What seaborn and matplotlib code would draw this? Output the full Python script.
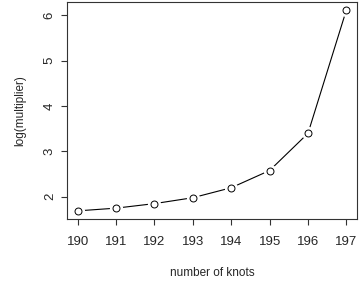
import numpy as np
import pandas as pd
import matplotlib
matplotlib.use("Agg")
import matplotlib.pyplot as plt
import seaborn as sns

# данные
knots = [190, 191, 192, 193, 194, 195, 196, 197]
log_mult = [1.69, 1.75, 1.85, 1.98, 2.20, 2.58, 3.40, 6.12]

df = pd.DataFrame({"knots": knots, "log_mult": log_mult})

sns.set_style("ticks")
plt.rcParams["font.family"] = ["Liberation Sans", "DejaVu Sans"]

fig = plt.figure(figsize=(3.6, 2.81), dpi=100)
ax = fig.add_axes([0.186, 0.221, 0.806, 0.772])

# линия, затем белые подложки под точками (как type="b" в R), затем пустые кружки
sns.lineplot(data=df, x="knots", y="log_mult", ax=ax, color="black", linewidth=0.8)
ax.plot(df["knots"], df["log_mult"], linestyle="none", marker="o", markersize=8.5,
        markerfacecolor="white", markeredgecolor="white", zorder=3)
ax.plot(df["knots"], df["log_mult"], linestyle="none", marker="o", markersize=5,
        markerfacecolor="white", markeredgecolor="black", markeredgewidth=0.7, zorder=4)

xr = max(knots) - min(knots)
yr = max(log_mult) - min(log_mult)
ax.set_xlim(min(knots) - 0.04 * xr, max(knots) + 0.04 * xr)
ax.set_ylim(min(log_mult) - 0.04 * yr, max(log_mult) + 0.04 * yr)

ax.set_xticks(knots)
ax.set_yticks([2, 3, 4, 5, 6])
ax.tick_params(axis="both", direction="out", length=4, width=0.8, labelsize=9.5, color="#333333")
for lab in ax.get_yticklabels():
    lab.set_rotation(90)
    lab.set_va("center")
ax.tick_params(axis="y", pad=4)
ax.tick_params(axis="x", pad=8)

for s in ax.spines.values():
    s.set_visible(True)
    s.set_linewidth(0.8)
    s.set_color("#333333")

ax.set_xlabel("number of knots", fontsize=8.5, labelpad=14)
ax.set_ylabel("log(multiplier)", fontsize=8.5, labelpad=13)

fig.savefig("out.png", dpi=100)
